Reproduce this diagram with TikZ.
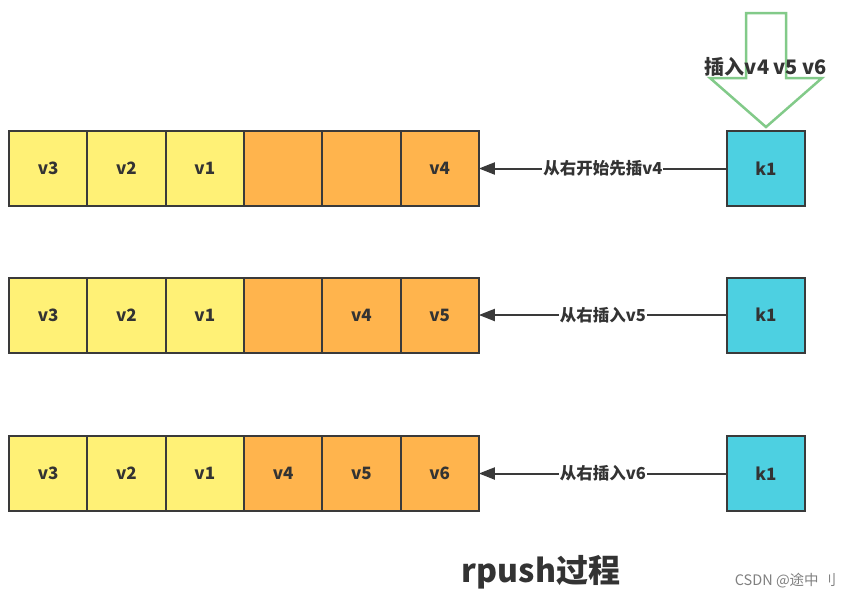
\documentclass[tikz,border=0pt]{standalone}
\usepackage{fontspec}
\setmainfont{Noto Sans CJK SC}
\usepackage{tikz}
\usetikzlibrary{positioning,arrows.meta}
\definecolor{cellyellow}{HTML}{FFF176}
\definecolor{cellorange}{HTML}{FFB44D}
\definecolor{keycyan}{HTML}{4DD0E1}
\definecolor{edgegray}{HTML}{3A3A3A}
\definecolor{textgray}{HTML}{333333}
\definecolor{arrowgreen}{HTML}{82CA89}

\begin{document}
\begin{tikzpicture}[x=1pt, y=-1pt, node distance=0pt]
	% Define styles for cells
	\tikzset{
		cell/.style={
			rectangle,
			draw=edgegray,
			line width=2pt,
			outer sep=0pt,
			minimum width=78.3pt,
			minimum height=75pt,
			text=textgray,
			font=\fontsize{17}{19}\selectfont\bfseries
		},
		old/.style={cell, fill=cellyellow},
		new/.style={cell, fill=cellorange},
		key/.style={cell, fill=keycyan, minimum width=78pt},
		push/.style={-{Triangle[length=16pt,width=12pt]}, draw=edgegray, line width=2pt},
		pushlabel/.style={fill=white, inner sep=1pt, text=textgray,
			font=\fontsize{16.5}{18}\selectfont\bfseries}
	}
	\useasboundingbox (0,0) rectangle (852,598);

	% First row: push v4
	\node[old] (v3A) at (48.2,168.5) {v3};
	\node[old, right=of v3A] (v2A) {v2};
	\node[old, right=of v2A] (v1A) {v1};
	\node[new, right=of v1A] (e1A) {};
	\node[new, right=of e1A] (e2A) {};
	\node[new, right=of e2A] (v4A) {v4};
	\node[key] (k1A) at (766,168.5) {k1};
	\draw[push] (k1A) -- node[pushlabel] {从右开始先插v4} (v4A);

	% Second row: push v5
	\node[old] (v3B) at (48.2,315) {v3};
	\node[old, right=of v3B] (v2B) {v2};
	\node[old, right=of v2B] (v1B) {v1};
	\node[new, right=of v1B] (e1B) {};
	\node[new, right=of e1B] (v4B) {v4};
	\node[new, right=of v4B] (v5B) {v5};
	\node[key] (k1B) at (766,315) {k1};
	\draw[push] (k1B) -- node[pushlabel] {从右插入v5} (v5B);

	% Third row: push v6
	\node[old] (v3C) at (48.2,473.5) {v3};
	\node[old, right=of v3C] (v2C) {v2};
	\node[old, right=of v2C] (v1C) {v1};
	\node[new, right=of v1C] (v4C) {v4};
	\node[new, right=of v4C] (v5C) {v5};
	\node[new, right=of v5C] (v6C) {v6};
	\node[key] (k1C) at (766,473.5) {k1};
	\draw[push] (k1C) -- node[pushlabel] {从右插入v6} (v6C);

	% big insert arrow above k1
	\draw[arrowgreen, line width=2.5pt, line join=miter]
		(746,13) -- (786,13) -- (786,78) -- (822,78) -- (766,127)
		-- (710,78) -- (746,78) -- cycle;
	\node[text=textgray, font=\fontsize{20}{22}\selectfont\bfseries] (insert) at (766,67) {插入v4 v5 v6};

	% title
	\node[text=textgray, font=\fontsize{32}{36}\selectfont\bfseries] (title) at (541,572) {rpush过程};
	\node[text=gray, font=\fontsize{14.5}{16}\selectfont, anchor=east] (mark) at (840,581) {CSDN @途中 刂};
\end{tikzpicture}
\end{document}
